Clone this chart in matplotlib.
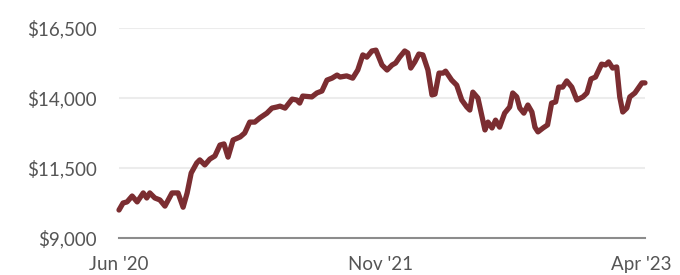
import matplotlib.pyplot as plt
import matplotlib.dates as mdates
import numpy as np
import pandas as pd

plt.rcParams['font.family'] = ['Lato', 'DejaVu Sans']

# portfolio value
dates = [
    "2020-06-01", "2020-06-09", "2020-06-17", "2020-06-27", "2020-07-07", "2020-07-19",
    "2020-07-26", "2020-08-01", "2020-08-11", "2020-08-21", "2020-08-31", "2020-09-14",
    "2020-09-26", "2020-10-06", "2020-10-14", "2020-10-22", "2020-11-02", "2020-11-08",
    "2020-11-18", "2020-11-28", "2020-12-08", "2020-12-18", "2020-12-26", "2021-01-03",
    "2021-01-13", "2021-01-27", "2021-02-05", "2021-02-15", "2021-02-25", "2021-03-07",
    "2021-03-21", "2021-03-31", "2021-04-10", "2021-04-16", "2021-04-26", "2021-05-10",
    "2021-05-19", "2021-05-25", "2021-05-31", "2021-06-18", "2021-06-28", "2021-07-08",
    "2021-07-18", "2021-07-28", "2021-08-07", "2021-08-13", "2021-08-26", "2021-09-07",
    "2021-09-17", "2021-09-27", "2021-10-05", "2021-10-15", "2021-10-23", "2021-11-04",
    "2021-11-14", "2021-11-24", "2021-12-01", "2021-12-09", "2021-12-19", "2021-12-25",
    "2021-12-31", "2022-01-08", "2022-01-16", "2022-01-24", "2022-02-03", "2022-02-11",
    "2022-02-17", "2022-02-25", "2022-03-05", "2022-03-10", "2022-03-22", "2022-04-01",
    "2022-04-11", "2022-04-21", "2022-04-27", "2022-05-03", "2022-05-13", "2022-05-27",
    "2022-06-02", "2022-06-10", "2022-06-17", "2022-06-25", "2022-07-05", "2022-07-15",
    "2022-07-21", "2022-07-29", "2022-08-04", "2022-08-12", "2022-08-20", "2022-08-28",
    "2022-09-03", "2022-09-09", "2022-09-19", "2022-09-28", "2022-10-06", "2022-10-14",
    "2022-10-20", "2022-10-28", "2022-11-05", "2022-11-15", "2022-11-25", "2022-12-07",
    "2022-12-15", "2022-12-23", "2023-01-01", "2023-01-13", "2023-01-21", "2023-01-27",
    "2023-02-04", "2023-02-12", "2023-02-18", "2023-02-24", "2023-03-04", "2023-03-10",
    "2023-03-20", "2023-04-03", "2023-04-09",
]
values = [
    10000, 10250, 10290, 10500, 10290, 10610,
    10430, 10610, 10430, 10360, 10140, 10610,
    10610, 10100, 10610, 11320, 11680, 11790,
    11610, 11820, 11930, 12320, 12360, 11890,
    12500, 12610, 12750, 13140, 13140, 13290,
    13460, 13640, 13680, 13710, 13640, 13960,
    13930, 13820, 14070, 14040, 14180, 14250,
    14640, 14710, 14820, 14750, 14790, 14710,
    15000, 15540, 15460, 15680, 15710, 15180,
    15000, 15180, 15250, 15460, 15680, 15610,
    15070, 15290, 15570, 15540, 15000, 14110,
    14140, 14890, 14890, 14960, 14640, 14460,
    13930, 13680, 13570, 14210, 14000, 12860,
    13140, 12930, 13210, 12960, 13460, 13680,
    14180, 14040, 13640, 13460, 13750, 13500,
    12960, 12790, 12930, 13040, 13820, 13860,
    14390, 14390, 14610, 14390, 13930, 14040,
    14180, 14680, 14750, 15210, 15180, 15290,
    15070, 15110, 14040, 13500, 13640, 14040,
    14180, 14540, 14540,
]
yticks = [9000, 11500, 14000, 16500]
xticks = ["2020-06-01", "2021-11-01", "2023-04-01"]
xlabels = ["Jun '20", "Nov '21", "Apr '23"]

x = pd.to_datetime(dates)
fig = plt.figure(figsize=(6.8, 2.75), dpi=100)
ax = fig.add_axes([0.175, 0.1345, 0.7735, 0.7636])

ax.plot(x, values, color='#7b2d31', lw=3.8, solid_joinstyle='round',
        solid_capstyle='round', zorder=3, clip_on=False)

ax.set_ylim(9000, 16500)
ax.set_xlim(pd.Timestamp("2020-06-01"), pd.Timestamp("2023-04-09"))
ax.set_yticks(yticks)
ax.set_yticklabels(['${:,}'.format(v) for v in yticks])
ax.set_xticks(pd.to_datetime(xticks))
ax.set_xticklabels(xlabels)

for v in yticks[1:]:
    ax.axhline(v, color='#ececec', lw=1.5, zorder=1)

for s in ['top', 'right', 'left']:
    ax.spines[s].set_visible(False)
ax.spines['bottom'].set_color('#8c8c8c')
ax.spines['bottom'].set_linewidth(1.5)

ax.tick_params(axis='y', length=0, pad=16, labelsize=13.5, labelcolor='#555555')
ax.tick_params(axis='x', length=0, pad=13, labelsize=13.5, labelcolor='#555555')

fig.savefig('out.png', dpi=100)
